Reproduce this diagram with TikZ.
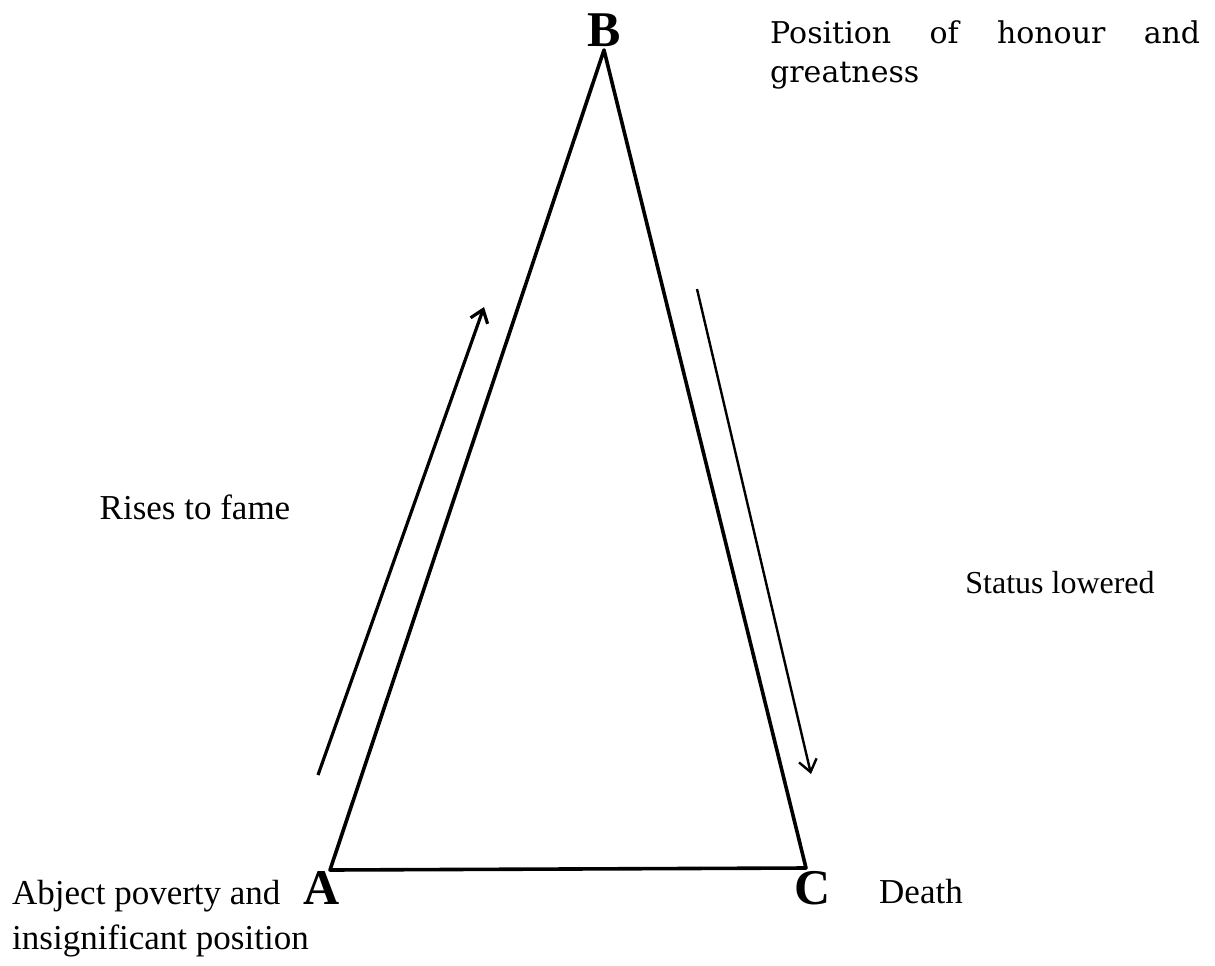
\documentclass[tikz,border=0pt]{standalone}
\usepackage{fontspec}
\setmainfont{Liberation Serif}
\newfontfamily\slabfont{DejaVu Serif}
\usetikzlibrary{arrows.meta}
\newcommand{\vertexfont}{\fontsize{50}{50}\selectfont\bfseries}
\newcommand{\captionfont}{\fontsize{35}{45}\selectfont}

\begin{document}
\begin{tikzpicture}[
x=1pt,y=-1pt,
vertex/.style={font=\vertexfont,inner sep=0pt},
caption/.style={font=\captionfont,inner sep=0pt,align=left},
side/.style={line width=3.6pt,line join=round},
trend/.style={line width=3.2pt},
>={Straight Barb[length=12pt,width=18pt]}
]
\useasboundingbox (0,0) rectangle (1215,966);

\coordinate (A) at (330,870);
\coordinate (B) at (604,50);
\coordinate (C) at (806,868);

\node[vertex] (labelB) at (604,30) {B};
\node[vertex] (labelA) at (322,888) {A};
\node[vertex] (labelC) at (813,888) {C};

\node[caption,anchor=north west,font=\slabfont\fontsize{30}{39}\selectfont] (honour) at (770,21)
{\makebox[430pt][s]{Position of honour and}\\greatness};
\node[caption,anchor=base] (rise) at (195,519) {Rises to fame};
\node[caption,anchor=base,font=\fontsize{32}{37}\selectfont] (lowered) at (1060,593) {Status lowered};
\node[caption,anchor=base] (death) at (921,903) {Death};
\node[caption,anchor=north west] (poverty) at (12,880) {Abject poverty and\\insignificant position};

% triangle of fortune
\draw[side] (A) -- (B) -- (C) -- cycle;

\coordinate (riseStart) at (318,775);
\coordinate (riseEnd) at (484,307);
\coordinate (fallStart) at (697,289);
\coordinate (fallEnd) at (811,774);

\draw[->,trend] (riseStart) -- (riseEnd);
\draw[->,line width=2.4pt] (fallStart) -- (fallEnd);

\end{tikzpicture}
\end{document}
